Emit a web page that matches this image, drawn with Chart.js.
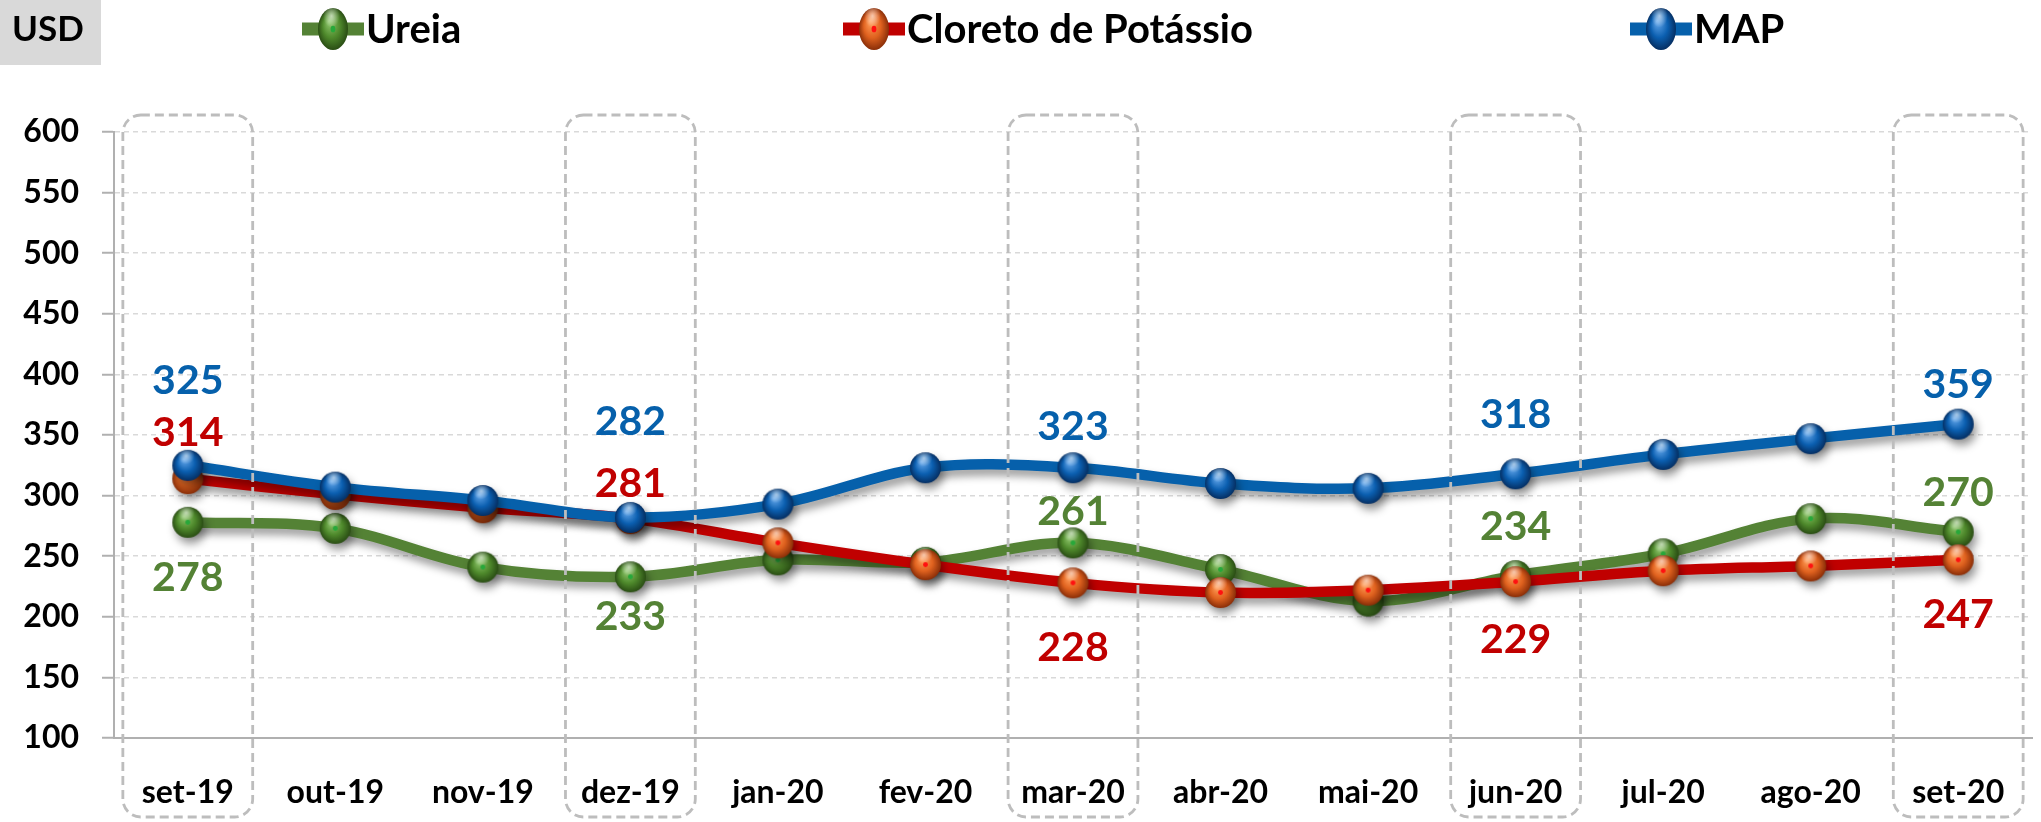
<!DOCTYPE html>
<html>
<head>
<meta charset="utf-8">
<script src="https://cdn.jsdelivr.net/npm/chart.js@4.4.0/dist/chart.umd.min.js"></script>
<style>
  html, body { margin: 0; padding: 0; background: #fff; overflow: hidden; }
  #wrap { width: 2048px; height: 822px; }
</style>
</head>
<body>
<div id="wrap"><canvas id="myChart" width="2048" height="822"></canvas></div>
<script>
// data (USD)
var months = ['set-19', 'out-19', 'nov-19', 'dez-19', 'jan-20', 'fev-20', 'mar-20',
              'abr-20', 'mai-20', 'jun-20', 'jul-20', 'ago-20', 'set-20'];
var ureia   = [278, 273, 241, 233, 247, 245, 261, 239, 213, 234, 252, 281, 270];
var cloreto = [314, 301, 290, 281, 261, 243, 228, 220, 222, 229, 238, 242, 247];
var map     = [325, 307, 296, 282, 293, 323, 323, 310, 306, 318, 334, 347, 359];
var yMin = 100, yMax = 600, yStep = 50;
var unitLabel = 'USD';

var GREEN = '#548235', RED = '#C00000', BLUE = '#0660AB';

// little 3d balls used as point markers
function makeBall(light, mid, dark, dot, r, sy) {
  var c = document.createElement('canvas');
  var w = Math.ceil(r * 2 + 4), h = Math.ceil(r * 2 * sy + 4);
  c.width = w; c.height = h;
  var g = c.getContext('2d');
  g.translate(w / 2, h / 2);
  g.scale(1, sy);
  var grad = g.createRadialGradient(-r * 0.25, -r * 0.35, r * 0.05, 0, 0, r);
  grad.addColorStop(0, light);
  grad.addColorStop(0.55, mid);
  grad.addColorStop(1, dark);
  g.fillStyle = grad;
  g.beginPath(); g.arc(0, 0, r, 0, Math.PI * 2); g.fill();
  var gl = g.createRadialGradient(-r * 0.1, -r * 0.62, 0, -r * 0.1, -r * 0.62, r * 0.55);
  gl.addColorStop(0, 'rgba(255,255,255,0.6)');
  gl.addColorStop(1, 'rgba(255,255,255,0)');
  g.fillStyle = gl;
  g.beginPath(); g.arc(0, 0, r, 0, Math.PI * 2); g.fill();
  if (dot) {
    g.fillStyle = dot;
    g.beginPath(); g.arc(0, 0, r * 0.16, 0, Math.PI * 2); g.fill();
  }
  return c;
}

var balls = {
  green: makeBall('#8cc46a', '#4f8a2c', '#2a4d14', '#27a83a', 15.5, 1),
  red:   makeBall('#ff9a55', '#e0621f', '#8a2e08', '#ff1010', 15.5, 1),
  blue:  makeBall('#5fa3e8', '#0b5fb0', '#052f63', null, 15.5, 1)
};
var legendBalls = {
  green: makeBall('#8cc46a', '#4f8a2c', '#2a4d14', '#27a83a', 15, 1.4),
  red:   makeBall('#ff9a55', '#e0621f', '#8a2e08', '#ff1010', 15, 1.4),
  blue:  makeBall('#5fa3e8', '#0b5fb0', '#052f63', null, 15, 1.4)
};

// soft drop shadow under lines and balls
var shadowPlugin = {
  id: 'shadow',
  beforeDatasetDraw: function(chart) {
    var c = chart.ctx;
    c.save();
    c.shadowColor = 'rgba(0,0,0,0.4)';
    c.shadowBlur = 8;
    c.shadowOffsetX = 3;
    c.shadowOffsetY = 6;
  },
  afterDatasetDraw: function(chart) {
    chart.ctx.restore();
  }
};

function roundRectPath(ctx, x, y, w, h, r) {
  ctx.beginPath();
  ctx.moveTo(x + r, y);
  ctx.lineTo(x + w - r, y);
  ctx.arcTo(x + w, y, x + w, y + r, r);
  ctx.lineTo(x + w, y + h - r);
  ctx.arcTo(x + w, y + h, x + w - r, y + h, r);
  ctx.lineTo(x + r, y + h);
  ctx.arcTo(x, y + h, x, y + h - r, r);
  ctx.lineTo(x, y + r);
  ctx.arcTo(x, y, x + r, y, r);
  ctx.closePath();
}

// dashed rounded boxes on every third month + value labels
var quarterPlugin = {
  id: 'quarters',
  afterDatasetsDraw: function(chart, args, opts) {
    var ctx = chart.ctx, xs = chart.scales.x, area = chart.chartArea;
    var w = xs.width / months.length * 0.88;
    ctx.save();
    ctx.strokeStyle = '#bdbdbd';
    ctx.lineWidth = 2.8;
    ctx.setLineDash([9, 5]);
    months.forEach(function(m, i) {
      if (i % 3 !== 0) return;
      var cx = xs.getPixelForValue(i);
      var top = area.top - 17;
      roundRectPath(ctx, cx - w / 2, top, w, chart.height - 5 - top, 18);
      ctx.stroke();
    });
    ctx.restore();

    ctx.save();
    ctx.font = 'bold 41px Lato';
    ctx.textAlign = 'center';
    ctx.textBaseline = 'middle';
    chart.data.datasets.forEach(function(ds, di) {
      var meta = chart.getDatasetMeta(di);
      var dy = opts.dy[di];
      ctx.fillStyle = ds.borderColor;
      var k = 0;
      ds.data.forEach(function(v, i) {
        if (i % 3 !== 0) return;
        var pt = meta.data[i];
        ctx.fillText(String(v), pt.x, pt.y + dy[k]);
        k++;
      });
    });
    ctx.restore();
  }
};

// unit box and legend at the top
var headerPlugin = {
  id: 'header',
  afterDraw: function(chart, args, opts) {
    var ctx = chart.ctx;
    ctx.save();
    ctx.fillStyle = '#d9d9d9';
    ctx.fillRect(0, 0, 101, 65);
    ctx.fillStyle = '#000';
    ctx.font = 'bold 35px Lato';
    ctx.textBaseline = 'middle';
    ctx.textAlign = 'left';
    ctx.fillText(unitLabel, 12, 30);

    var keys = ['green', 'red', 'blue'];
    chart.data.datasets.forEach(function(ds, di) {
      var x0 = opts.x[di], y0 = 29;
      ctx.strokeStyle = ds.borderColor;
      ctx.lineWidth = 13;
      ctx.lineCap = 'butt';
      ctx.beginPath(); ctx.moveTo(x0, y0); ctx.lineTo(x0 + 62, y0); ctx.stroke();
      var b = legendBalls[keys[di]];
      ctx.drawImage(b, x0 + 31 - b.width / 2, y0 - b.height / 2);
      ctx.fillStyle = '#000';
      ctx.font = 'bold 40px Lato';
      ctx.fillText(ds.label, x0 + 64, y0 + 1);
    });
    ctx.restore();
  }
};

var ctx = document.getElementById('myChart').getContext('2d');

var data = {
  labels: months,
  datasets: [{
    label: 'Ureia',
    data: ureia,
    borderColor: GREEN,
    pointStyle: balls.green,
    order: 3
  }, {
    label: 'Cloreto de Potássio',
    data: cloreto,
    borderColor: RED,
    pointStyle: balls.red,
    order: 2
  }, {
    label: 'MAP',
    data: map,
    borderColor: BLUE,
    pointStyle: balls.blue,
    order: 1
  }]
};

var options = {
  responsive: false,
  animation: false,
  layout: { padding: { top: 132, right: 1, left: 0, bottom: 0 } },
  elements: {
    line: { borderWidth: 10.5, tension: 0.35, fill: false, borderCapStyle: 'round', borderJoinStyle: 'round' },
    point: { radius: 15 }
  },
  plugins: {
    legend: { display: false },
    tooltip: { enabled: false },
    quarters: {
      dy: [
        [56, 40, -31, -49, -39],
        [-46, -35, 65, 58, 55],
        [-85, -96, -41, -59, -39]
      ]
    },
    header: { x: [302, 843, 1630] }
  },
  scales: {
    x: {
      offset: true,
      grid: { display: false, drawTicks: false },
      border: { display: true, color: '#b0b0b0', width: 2 },
      ticks: { color: '#000', font: { family: 'Lato', weight: 'bold', size: 32 }, padding: 35, maxRotation: 0 },
      afterFit: function(s) { s.height = 84; }
    },
    y: {
      min: yMin,
      max: yMax,
      ticks: { stepSize: yStep, color: '#000', font: { family: 'Lato', weight: 'bold', size: 32 }, padding: 23 },
      grid: { color: '#d9d9d9', lineWidth: 1.5, tickLength: 12, tickColor: '#b0b0b0', tickWidth: 2 },
      border: { display: true, color: '#b0b0b0', width: 2, dash: [5, 4] },
      afterFit: function(s) { s.width = 114; }
    }
  }
};

var myChart = new Chart(ctx, {
  type: 'line',
  data: data,
  options: options,
  plugins: [shadowPlugin, quarterPlugin, headerPlugin]
});
</script>
</body>
</html>
